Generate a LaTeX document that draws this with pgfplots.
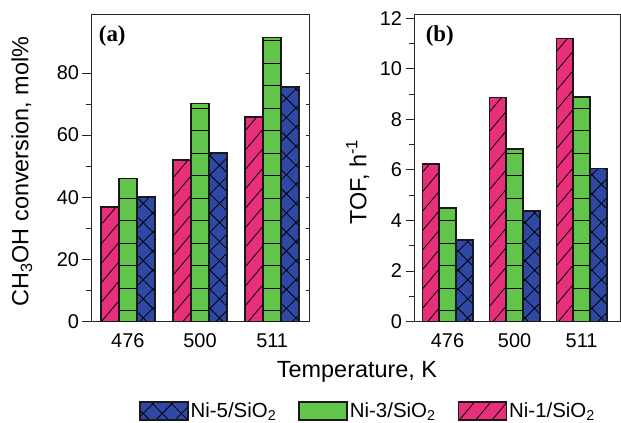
\documentclass[border=0pt]{standalone}
\usepackage{fontspec}
\setmainfont{Liberation Sans}
\newfontfamily\tnr{Liberation Serif}
\usepackage{pgfplots}
\pgfplotsset{compat=1.18}
\usetikzlibrary{patterns.meta}
\definecolor{cpink}{RGB}{232,48,122}
\definecolor{cgreen}{RGB}{96,197,74}
\definecolor{cblue}{RGB}{46,72,163}
\tikzset{
 pinkbar/.style={fill=cpink, draw=black!90, line width=1.7bp, postaction={pattern={Lines[angle=50,distance=12.5bp,line width=0.8bp]}, pattern color=black}},
 greenbar/.style={fill=cgreen, draw=black!90, line width=1.7bp, postaction={pattern={Lines[angle=0,distance=22.5bp,line width=0.8bp]}, pattern color=black}},
 bluebar/.style={fill=cblue, draw=black!90, line width=1.7bp, postaction={pattern={Hatch[angle=45,distance=13.5bp,line width=0.8bp]}, pattern color=black}},
}
\pgfplotsset{
 myax/.style={
  scale only axis, anchor=south west, height=307.5bp, ymin=0,
  xtick={0,1,2}, xticklabels={476,500,511},
  xtick style={draw=none},
  ytick pos=left, tick align=outside,
  major tick length=8.5bp, minor tick length=5bp,
  minor y tick num=1,
  axis line style={line width=0.8bp, black!85},
  tick style={black!85, line width=0.8bp},
  tick label style={font=\fontsize{20}{24}\selectfont},
  xticklabel style={yshift=0bp},
  /pgf/number format/assume math mode=true,
  ybar=0pt, bar width=0.25,
  legend image code/.code={\draw[##1] (0bp,-9bp) rectangle (48bp,9bp);},
 },
 rax/.style={
  scale only axis, anchor=south west, height=307.5bp, ymin=0,
  hide x axis, axis y line*=right, yticklabels={}, minor y tick num=1,
  tick align=inside, major tick length=3.5bp, minor tick length=3.5bp,
  axis line style={line width=0.8bp, black!85},
  tick style={black!85, line width=0.8bp},
 }
}
\begin{document}
\begin{tikzpicture}
\useasboundingbox (0,0) rectangle (621bp,423bp);
% panel (a)
\begin{axis}[myax, at={(91bp,101.5bp)}, width=218bp, xmin=-0.51, xmax=2.51, ymax=99,
  ytick={0,20,40,60,80},
  ylabel={CH\textsubscript{3}OH conversion, mol\%},
  ylabel style={font=\fontsize{23.5}{28}\selectfont, at={(axis description cs:-0.317,0.487)}, anchor=center},
  legend columns=3, reverse legend,
  legend style={draw=none, fill=none, at={(axis description cs:1.27,-0.29)}, anchor=center,
    font=\fontsize{20.5}{24}\selectfont, /tikz/every even column/.append style={column sep=20bp}},
]
\addplot[pinkbar] coordinates {(0,36.8) (1,52.1) (2,65.9)};
\addlegendentry{Ni-1/SiO\textsubscript{2}}
\addplot[greenbar] coordinates {(0,46.0) (1,70.2) (2,91.4)};
\addlegendentry{Ni-3/SiO\textsubscript{2}}
\addplot[bluebar] coordinates {(0,40.0) (1,54.2) (2,75.4)};
\addlegendentry{Ni-5/SiO\textsubscript{2}}
\node[anchor=west, font=\tnr\bfseries\fontsize{23}{27}\selectfont] at (rel axis cs:0.02,0.93) {(a)};
\end{axis}
\begin{axis}[rax, at={(91bp,101.5bp)}, width=218bp, xmin=-0.51, xmax=2.51, ymax=99, ytick={0,20,40,60,80}]
\end{axis}
% panel (b)
\begin{axis}[myax, at={(414bp,101.5bp)}, width=206.5bp, xmin=-0.5, xmax=2.58, ymax=12.17,
  ytick={0,2,4,6,8,10,12},
  ylabel={TOF, h\textsuperscript{-1}},
  ylabel style={font=\fontsize{23.5}{28}\selectfont, at={(axis description cs:-0.272,0.454)}, anchor=center},
]
\addplot[pinkbar] coordinates {(0,6.23) (1,8.87) (2,11.2)};
\addplot[greenbar] coordinates {(0,4.5) (1,6.84) (2,8.89)};
\addplot[bluebar] coordinates {(0,3.23) (1,4.36) (2,6.05)};
\node[anchor=west, font=\tnr\bfseries\fontsize{23}{27}\selectfont] at (rel axis cs:0.04,0.93) {(b)};
\end{axis}
\node[font=\fontsize{23.5}{28}\selectfont] at (357bp,51bp) {Temperature, K};
\end{tikzpicture}
\end{document}
